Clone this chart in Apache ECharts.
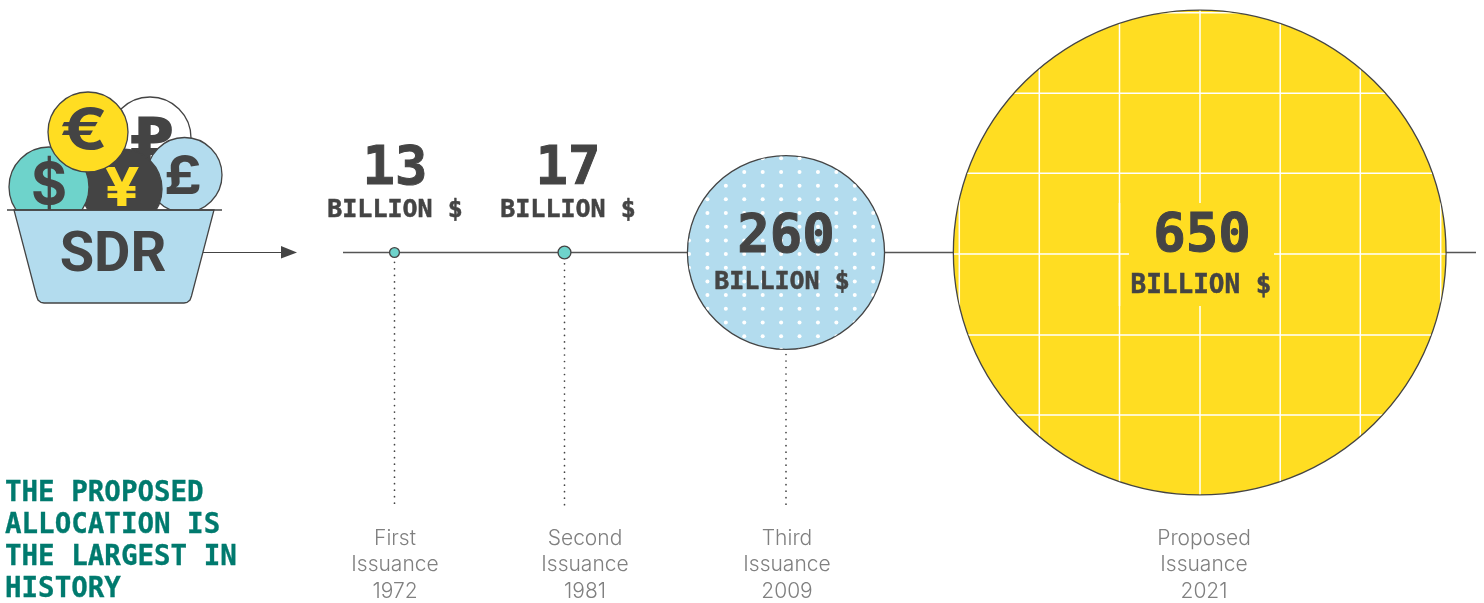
<!DOCTYPE html>
<html>
<head>
<meta charset="utf-8">
<style>html,body{margin:0;padding:0;background:#fff}#c{width:1484px;height:603px}</style>
<script src="https://cdn.jsdelivr.net/npm/echarts@6/dist/echarts.min.js"></script>
</head>
<body>
<div id="c"></div>
<script>
// ---- data ----
const issuanceNames = ['First', 'Second', 'Third', 'Proposed'];
const issuanceYears = ['1972', '1981', '2009', '2021'];
const allocationBillion = [13, 17, 260, 650];
const unitLabel = 'BILLION $';
const headline = ['THE PROPOSED', 'ALLOCATION IS', 'THE LARGEST IN', 'HISTORY'];

// ---- layout (pixel-like scale of the hidden axes) ----
const timelineY = 252.5;
const markerX = [394.5, 564.5, 786, 1199.7];
const captionX = [395, 585, 787, 1204];
const amountPos = [[395, 170], [568, 170], [786, 238], [1202, 237]];
const unitPos = [[395, 210], [568, 210], [782, 282], [1201, 286]];
const unitSize = [25, 25, 25, 26];
const fills = ['#6ed3cb', '#6ed3cb', '#b3dcee', '#ffdd22'];
const INK = '#444444';
const MONO = '"DejaVu Sans Mono"';
const rx = v => v * 0.379, ry = v => v * 0.373;

const chart = echarts.init(document.getElementById('c'), null, {renderer: 'canvas'});

function lineEl(x1, y1, x2, y2, style) {
  return {type: 'line', shape: {x1, y1, x2, y2}, style: Object.assign({stroke: '#fff', lineWidth: 1.5, fill: null}, style)};
}

const coin = (cx, cy, r, fill) => ({type: 'circle', shape: {cx, cy, r}, style: {fill, stroke: INK, lineWidth: 1.3}});
const glyph = (text, x, y, size, fill, family, weight, sx) => ({type: 'text',
  x, y, scaleX: sx || 1,
  style: {
  text, x: 0, y: 0, fill: fill, textAlign: 'center', textVerticalAlign: 'middle',
  font: (weight || 'bold') + ' ' + size + 'px ' + (family || 'Inter')}});

const iconElements = [
  coin(150, 138, 41, '#fff'),
  glyph('₽', 152, 146, 62, INK, '"DejaVu Sans"', 'bold', 1.05),
  coin(184.5, 175, 37.5, '#b3dcee'),
  glyph('£', 183, 178, 54, INK, 'Inter', 'bold', 1.1),
  coin(122, 189, 40, INK),
  glyph('¥', 122, 190, 54, '#ffdd22', 'Inter', 'bold', 1.15),
  coin(49, 187, 40, '#6ed3cb'),
  glyph('$', 49, 187, 58, INK, 'Inter', 'bold', 0.95),
  coin(88, 132, 40, '#ffdd22'),
  glyph('€', 84, 132, 56, INK, 'Inter', 'bold', 1.25),
  {type: 'polygon', shape: {points: [[14, 210], [214, 210], [191.5, 296], [190, 300], [187, 302.5], [184, 303], [44, 303], [41, 302.5], [38, 300], [36.5, 296]]},
    style: {fill: '#b3dcee', stroke: INK, lineWidth: 1.3}},
  lineEl(7, 210, 222, 210, {stroke: INK, lineWidth: 1.5}),
  glyph('SDR', 113, 257, 56, INK, 'Roboto', 'bold'),
  lineEl(203, 252.5, 284, 252.5, {stroke: INK, lineWidth: 1.2}),
  {type: 'polygon', shape: {points: [[281, 246], [297, 252.5], [281, 258.5]]}, style: {fill: INK}}
];

const bubbleData = allocationBillion.map((v, i) => ({
  value: [markerX[i], timelineY, v],
  itemStyle: {color: fills[i]}
}));

chart.setOption({
  animation: false,
  backgroundColor: '#fff',
  grid: {left: 0, right: 0, top: 0, bottom: 0},
  xAxis: {type: 'value', min: 0, max: 1484, show: false},
  yAxis: {type: 'value', min: 0, max: 603, inverse: true, show: false},
  graphic: {elements: iconElements.map(e => Object.assign({silent: true}, e))},
  series: [
    { // timeline
      type: 'line', z: 1, silent: true, symbol: 'none',
      data: [[343, timelineY], [1476, timelineY]],
      lineStyle: {color: '#555', width: 1.3}
    },
    { // dotted drop lines
      type: 'custom', z: 1, silent: true, clip: false,
      data: allocationBillion.slice(0, 3).map((v, i) => [markerX[i], timelineY, v]),
      renderItem(p, api) {
        const a = api.coord([api.value(0), api.value(1) + ry(api.value(2)) + 5]);
        const b = api.coord([api.value(0), 509]);
        return lineEl(a[0], a[1], b[0], b[1], {stroke: INK, lineWidth: 1.7, lineDash: [0.01, 6.5], lineCap: 'round'});
      }
    },
    { // bubbles: radius is proportional to the allocation
      type: 'scatter', z: 3, silent: true, symbol: 'circle',
      data: bubbleData,
      symbolSize: d => [2 * rx(d[2]), 2 * ry(d[2])],
      itemStyle: {borderColor: INK, borderWidth: 1.3, opacity: 1}
    },
    { // textures on the two large bubbles
      type: 'custom', z: 4, silent: true, clip: false,
      data: [[markerX[2], timelineY, allocationBillion[2], 0], [markerX[3], timelineY, allocationBillion[3], 1]],
      renderItem(p, api) {
        const c = api.coord([api.value(0), api.value(1)]);
        const v = api.value(2);
        const children = [];
        if (api.value(3) === 0) {
          for (let row = -1; row < 15; row++) {
            for (let col = 0; col < 12; col++) {
              children.push({type: 'circle', shape: {cx: 689 + col * 18.42, cy: 158.3 + row * 13.68, r: 2},
                style: {fill: '#fff'}});
            }
          }
        } else {
          const vx = [959.3, 1039.3, 1119.5, 1200, 1280.2, 1360.3, 1440.7];
          const hy = [12.7, 93.3, 173.3, 254, 335, 415];
          vx.forEach(x => children.push(lineEl(x, 0, x, 603)));
          hy.forEach(y => children.push(lineEl(940, y, 1460, y)));
          children.push({type: 'rect', shape: {x: 1129, y: 203, width: 145, height: 103}, style: {fill: fills[3]}});
          children.push(lineEl(1119.5, 203, 1119.5, 306));
        }
        return {type: 'group', children,
          clipPath: {type: 'ellipse', shape: {cx: c[0], cy: c[1], rx: rx(v) - 0.6, ry: ry(v) - 0.6}}};
      }
    },
    { // amount + unit + caption texts
      type: 'custom', z: 5, silent: true, clip: false,
      data: allocationBillion.map((v, i) => [i]),
      renderItem(p, api) {
        const i = api.value(0);
        const t = (text, pos, font, fill, lh, sw) => ({type: 'text', style: {
          text, x: api.coord(pos)[0], y: api.coord(pos)[1], font, fill, lineHeight: lh,
          stroke: sw ? fill : null, lineWidth: sw || 0,
          textAlign: 'center', textVerticalAlign: 'middle'}});
        return {type: 'group', children: [
          t(String(allocationBillion[i]), amountPos[i], 'bold 54px ' + MONO, INK, undefined, 1),
          t(unitLabel, unitPos[i], 'bold ' + unitSize[i] + 'px ' + MONO, INK, undefined, 0.5),
          t(issuanceNames[i] + '\nIssuance\n' + issuanceYears[i], [captionX[i], 565], '300 21px Inter', '#808080', 26.7)
        ]};
      }
    },
    { // headline
      type: 'custom', z: 5, silent: true, clip: false,
      data: headline.map((s, i) => [i]),
      renderItem(p, api) {
        const i = api.value(0);
        const c = api.coord([5, 494 + i * 32]);
        return {type: 'text', style: {text: headline[i], x: c[0], y: c[1], font: 'bold 27.5px ' + MONO,
          fill: '#007a6e', stroke: '#007a6e', lineWidth: 0.3, textAlign: 'left', textVerticalAlign: 'middle'}};
      }
    }
  ]
});
</script>
</body>
</html>
